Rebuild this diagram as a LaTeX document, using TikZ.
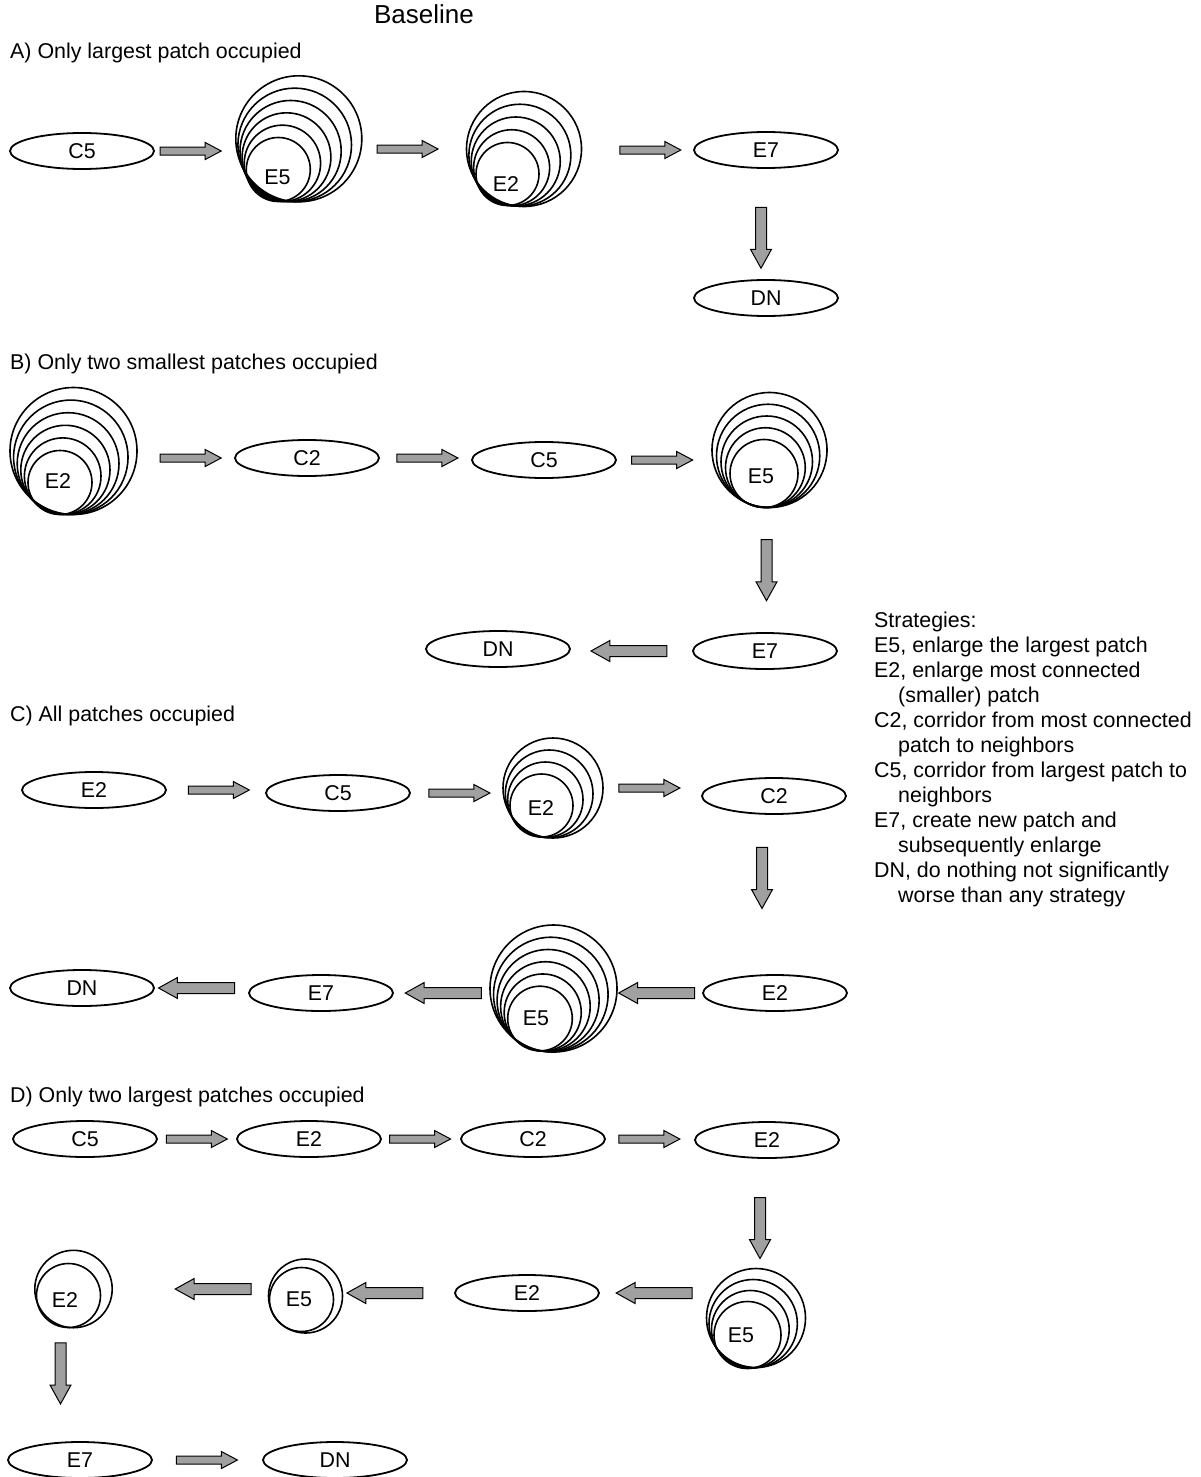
\documentclass[tikz,border=0pt]{standalone}
\usepackage{fontspec}
\setmainfont{Liberation Sans}
\usetikzlibrary{shapes.geometric,shapes.arrows}
\definecolor{arrowgray}{RGB}{160,160,160}
\newcommand\nestrings[8]{%
  \node[ring, minimum size={2*#4 pt}] (#1) at (#2,#3) {};
  \node[ring, minimum size={2*#7 pt}] (#1i) at (#5,#6) {};
  \ifnum#8>2
    \pgfmathtruncatemacro\nestM{#8-2}%
    \foreach \k in {1,...,\nestM}{%
      \pgfmathsetmacro\nestT{\k/(#8-1)}%
      \pgfmathsetmacro\nestX{#5+\nestT*(#2-#5)}%
      \pgfmathsetmacro\nestY{#6+\nestT*(#3-#6)}%
      \pgfmathsetmacro\nestR{#7+\nestT*(#4-#7)}%
      \draw[ringline] (\nestX,\nestY) circle[radius=\nestR pt];
    }%
  \fi}
\newcommand\link[4]{\path (#1) -- node[#3, pos=#4, sloped, allow upside down]{} (#2);}
\begin{document}
\begin{tikzpicture}[x=1pt,y=-1pt,
  txt/.style={font=\fontsize{21.4}{25}\selectfont, inner sep=0pt},
  ring/.style={circle, draw, line width=1.6pt, inner sep=0pt},
  ringline/.style={line width=1.6pt},
  oval/.style={ellipse, draw, line width=1.8pt, minimum width=144pt, minimum height=36pt, inner sep=0pt, font=\fontsize{21.4}{25}\selectfont},
  arrbase/.style={single arrow, draw=black, fill=arrowgray, line width=1pt, inner xsep=0pt, minimum width=0pt, single arrow head indent=0pt},
  rarr/.style={arrbase, inner ysep=3.5pt, single arrow head extend=4.5pt, single arrow tip angle=56, minimum height=61pt},
  barr/.style={arrbase, inner ysep=5pt, single arrow head extend=5pt, single arrow tip angle=58, minimum height=76pt},
  darr/.style={arrbase, inner ysep=5pt, single arrow head extend=5pt, single arrow tip angle=58, minimum height=61pt}]
\useasboundingbox[fill=white] (0,0) rectangle (1200,1477);

% titles
\node[txt, font=\fontsize{26}{30}\selectfont, anchor=base] (title) at (424,24) {Baseline};
\node[txt, anchor=base west] (secA) at (10,59) {A) Only largest patch occupied};
\node[txt, anchor=base west] (secB) at (10,369) {B) Only two smallest patches occupied};
\node[txt, anchor=base west] (secC) at (10,721) {C) All patches occupied};
\node[txt, anchor=base west] (secD) at (10,1102) {D) Only two largest patches occupied};

% legend
\node[txt, anchor=base west] (l1) at (874,627) {Strategies:};
\node[txt, anchor=base west] (l2) at (874,652) {E5, enlarge the largest patch};
\node[txt, anchor=base west] (l3) at (874,677) {E2, enlarge most connected};
\node[txt, anchor=base west] (l4) at (898,702) {(smaller) patch};
\node[txt, anchor=base west] (l5) at (874,727) {C2, corridor from most connected};
\node[txt, anchor=base west] (l6) at (898,752) {patch to neighbors};
\node[txt, anchor=base west] (l7) at (874,777) {C5, corridor from largest patch to};
\node[txt, anchor=base west] (l8) at (898,802) {neighbors};
\node[txt, anchor=base west] (l9) at (874,827) {E7, create new patch and};
\node[txt, anchor=base west] (l10) at (898,852) {subsequently enlarge};
\node[txt, anchor=base west] (l11) at (874,877) {DN, do nothing not significantly};
\node[txt, anchor=base west] (l12) at (898,902) {worse than any strategy};

% Row A
\node[oval] (a1) at (82,151) {C5};
\nestrings{a2}{298.8}{138.8}{63}{278.3}{169.5}{32}{6}
\node[txt] (a2t) at (277.5,177.5) {E5};
\nestrings{a3}{524}{149}{57.5}{507.5}{174}{31.5}{5}
\node[txt] (a3t) at (506,184) {E2};
\node[oval] (a4) at (766,150) {E7};
\node[oval] (a5) at (766,298) {DN};
\link{a1.east}{a1.east -| a2.west}{rarr}{0.40}
\link{a3.west -| a2.east}{a3.west}{rarr}{0.40}
\link{a4.west -| a3.east}{a4.west}{rarr}{0.58}
\link{[xshift=-5pt]a4.south}{[xshift=-5pt]a4.south |- a5.north}{darr}{0.58}

% Row B
\nestrings{b1}{73.5}{451}{63.5}{60}{482.5}{32}{6}
\node[txt] (b1t) at (58,481) {E2};
\node[oval] (b2) at (307,458) {C2};
\node[oval] (b3) at (544,460) {C5};
\nestrings{b4}{769.5}{450}{57.5}{764}{473.5}{34}{5}
\node[txt] (b4t) at (761,476) {E5};
\node[oval] (b5) at (765,651) {E7};
\node[oval] (b6) at (498,649) {DN};
\link{b2.west -| b1.east}{b2.west}{rarr}{0.51}
\link{b2.east}{b2.east -| b3.west}{rarr}{0.48}
\link{b3.east}{b3.east -| b4.west}{rarr}{0.44}
\link{[xshift=-3pt]b4.south}{[xshift=-3pt]b4.south |- b5.north}{darr}{0.46}
\link{b5.west}{b5.west -| b6.east}{barr}{0.48}

% Row C
\node[oval] (c1) at (94,790) {E2};
\node[oval] (c2) at (338,793) {C5};
\nestrings{c3}{553}{788}{50}{541.5}{805.5}{31.5}{4}
\node[txt] (c3t) at (541,808) {E2};
\node[oval] (c4) at (774,796) {C2};
\node[oval] (c5) at (775,993) {E2};
\nestrings{c6}{553.5}{988.5}{63.5}{540}{1018.5}{32.3}{6}
\node[txt] (c6t) at (536,1018) {E5};
\node[oval] (c7) at (321,993) {E7};
\node[oval] (c8) at (82,988) {DN};
\link{c1.east}{c1.east -| c2.west}{rarr}{0.49}
\link{c2.east}{c2.east -| c3.west}{rarr}{0.49}
\link{c3.east}{c3.east -| c4.west}{rarr}{0.43}
\link{[xshift=-12pt]c4.south}{[xshift=-12pt]c4.south |- c5.north}{darr}{0.365}
\link{c5.west}{c5.west -| c6.east}{barr}{0.48}
\link{c7.east -| c6.west}{c7.east}{barr}{0.43}
\link{c8.east -| c7.west}{c8.east}{barr}{0.50}

% Row D
\node[oval] (d1) at (85,1139) {C5};
\node[oval] (d2) at (309,1139) {E2};
\node[oval] (d3) at (533,1139) {C2};
\node[oval] (d4) at (767,1140) {E2};
\nestrings{d5}{756}{1318}{49.5}{747.5}{1335}{33.5}{4}
\node[txt] (d5t) at (741,1335) {E5};
\node[oval] (d6) at (527,1293) {E2};
\nestrings{d7}{305.5}{1296}{37}{301.5}{1299.5}{32}{2}
\node[txt] (d7t) at (299,1299) {E5};
\nestrings{d8}{73.5}{1289}{38.7}{68.5}{1295.5}{32}{2}
\node[txt] (d8t) at (65,1300) {E2};
\node[oval] (d9) at (80,1460) {E7};
\node[oval] (d10) at (335,1460) {DN};
\link{d1.east}{d1.east -| d2.west}{rarr}{0.45}
\link{d2.east}{d2.east -| d3.west}{rarr}{0.44}
\link{d3.east}{d3.east -| d4.west}{rarr}{0.45}
\link{[xshift=-7pt]d4.south}{[xshift=-7pt]d4.south |- d5.north}{darr}{0.59}
\link{d6.east -| d5.west}{d6.east}{barr}{0.44}
\link{d6.west}{d6.west -| d7.east}{barr}{0.58}
\link{d8.east -| d7.west}{d8.east}{barr}{0.32}
\link{[xshift=-13pt]d8.south}{[xshift=-13pt]d8.south |- d9.north}{darr}{0.355}
\link{d9.east}{d9.east -| d10.west}{rarr}{0.46}
\end{tikzpicture}
\end{document}
